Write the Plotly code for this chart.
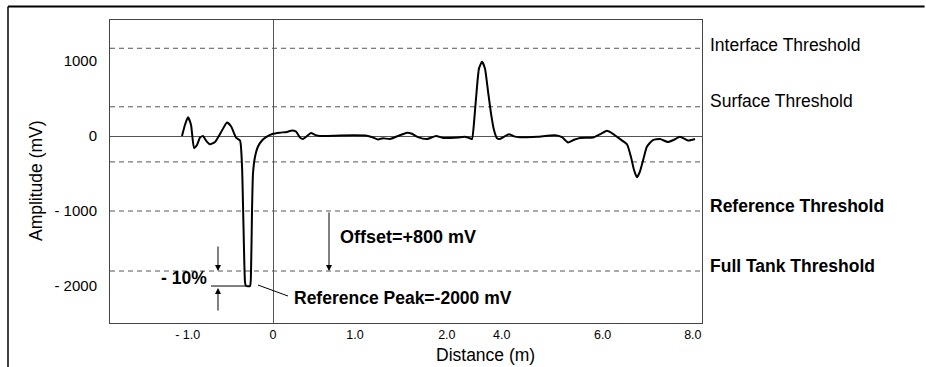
import plotly.graph_objects as go

# ---- data (x in axis units, amplitude in mV) ----
distance_pos = [
    -1.110, -1.073, -1.037, -1.000, -0.963, -0.927, -0.890, -0.854, -0.817, -0.768,
    -0.707, -0.634, -0.561, -0.512, -0.451, -0.402, -0.378, -0.360, -0.341, -0.329,
    -0.280, -0.268, -0.256, -0.244, -0.220, -0.183, -0.134, -0.085, 0.000, 0.085,
    0.171, 0.232, 0.280, 0.329, 0.366, 0.415, 0.463, 0.512, 0.573, 0.817,
    1.146, 1.220, 1.280, 1.341, 1.427, 1.524, 1.634, 1.695, 1.768, 1.878,
    1.988, 2.073, 2.159, 2.256, 2.341, 2.402, 2.427, 2.445, 2.476, 2.512,
    2.549, 2.585, 2.622, 2.659, 2.695, 2.732, 2.768, 2.817, 2.878, 2.939,
    3.012, 3.220, 3.439, 3.524, 3.598, 3.671, 3.744, 3.902, 4.000, 4.073,
    4.146, 4.232, 4.317, 4.366, 4.402, 4.439, 4.476, 4.512, 4.561, 4.634,
    4.720, 4.817, 4.890, 4.963, 5.061, 5.146,
]
amplitude_mv = [
    0, 150, 250, 150, -160, -120, -20, 0, -60, -110,
    -80, 50, 180, 130, -20, -60, -400, -1200, -1950, -2000,
    -2000, -1800, -1000, -500, -280, -140, -60, -15, 30, 45,
    55, 75, 60, -20, -40, 0, 40, 15, 0, 8,
    5, -20, -45, -30, -40, 0, 45, 30, -15, -40,
    0, -25, -25, -20, -10, -30, -40, 100, 500, 900,
    990, 900, 600, 300, 80, -30, -40, -10, 25, -5,
    -15, -10, 10, -15, -85, -50, -25, -20, 30, 70,
    30, -40, -110, -280, -450, -550, -470, -330, -140, -55,
    -40, -80, -50, -10, -60, -40,
]

threshold_values = [1170, 390, -345, -1000, -1800]
threshold_labels = ["Interface Threshold", "Surface Threshold", "", "Reference Threshold", "Full Tank Threshold"]
threshold_bold = [False, False, False, True, True]
threshold_label_shift = [3, 6, 0, 5, 5]

x_tick_vals = [-1.04, 0, 1.0, 2.12, 2.79, 4.02, 5.12]
x_tick_text = ["- 1.0", "0", "1.0", "2.0", "4.0", "6.0", "8.0"]
y_tick_vals = [1000, 0, -1000, -2000]
y_tick_text = ["1000", "0", "- 1000", "- 2000"]

reference_peak = -2000
reference_threshold = -1000
full_tank_threshold = -1800

FONT = "Liberation Sans, Arial, Helvetica, sans-serif"

fig = go.Figure()
fig.add_trace(go.Scatter(
    x=distance_pos, y=amplitude_mv, mode="lines",
    line=dict(color="black", width=2, shape="spline", smoothing=0.5),
    hoverinfo="skip", showlegend=False,
))

shapes = []
annotations = []
for val, lab, bold, sh in zip(threshold_values, threshold_labels, threshold_bold, threshold_label_shift):
    shapes.append(dict(type="line", xref="paper", x0=0, x1=1, yref="y", y0=val, y1=val,
                       line=dict(color="#555", width=1, dash="5px,4px"), layer="below"))
    if lab:
        annotations.append(dict(xref="paper", x=1, xanchor="left", xshift=6,
                                yref="y", y=val, yshift=sh, yanchor="middle",
                                text=f"<b>{lab}</b>" if bold else lab, showarrow=False,
                                font=dict(family=FONT, size=17.5, color="black")))

# outer frame (partial box)
shapes.append(dict(type="line", xref="paper", yref="paper", x0=-0.1723, x1=1.376, y0=1.0446, y1=1.0446,
                   line=dict(color="black", width=2)))
shapes.append(dict(type="line", xref="paper", yref="paper", x0=-0.1723, x1=-0.1723, y0=1.0446, y1=-0.145,
                   line=dict(color="black", width=1.5)))

# -10% marker: horizontal tie to reference peak
shapes.append(dict(type="line", xref="x", yref="y", x0=-0.756, x1=-0.341, y0=reference_peak, y1=reference_peak,
                   line=dict(color="black", width=1)))
# leader line to "Reference Peak"
shapes.append(dict(type="line", xref="x", yref="y", x0=-0.183, x1=0.183, y0=-1987, y1=-2133,
                   line=dict(color="black", width=1)))

# arrows
for (xa, y_from, y_to) in [(-0.671, -1453, full_tank_threshold),
                           (-0.671, -2347, reference_peak - 27),
                           (0.683, reference_threshold, full_tank_threshold)]:
    annotations.append(dict(x=xa, y=y_to, ax=xa, ay=y_from, xref="x", yref="y", axref="x", ayref="y",
                            text="", showarrow=True, arrowhead=2, arrowsize=1.2, arrowwidth=1,
                            arrowcolor="black", standoff=0, startstandoff=0))

annotations.append(dict(x=-1.085, y=-1893, xref="x", yref="y", text="<b>- 10%</b>", showarrow=False,
                        font=dict(family=FONT, size=17.5, color="black")))
annotations.append(dict(x=0.793, y=-1347, xref="x", yref="y", xanchor="left", text="<b>Offset=+800 mV</b>",
                        showarrow=False, font=dict(family=FONT, size=18, color="black")))
annotations.append(dict(x=0.232, y=-2160, xref="x", yref="y", xanchor="left",
                        text="<b>Reference Peak=-2000 mV</b>", showarrow=False,
                        font=dict(family=FONT, size=17.5, color="black")))

# axis titles
annotations.append(dict(xref="paper", yref="paper", x=(485 - 110) / 592, y=(323 - 355) / 303,
                        text="Distance (m)", showarrow=False, yanchor="middle",
                        font=dict(family=FONT, size=17.5, color="black")))
annotations.append(dict(xref="paper", yref="paper", x=(24 - 110) / 592, y=(323 - 181) / 303,
                        text="Amplitude (mV)", textangle=-90, showarrow=False,
                        font=dict(family=FONT, size=17.5, color="black")))

fig.update_layout(
    width=926, height=367,
    margin=dict(l=110, r=224, t=20, b=44, pad=0),
    paper_bgcolor="white", plot_bgcolor="white",
    font=dict(family=FONT, color="black"),
    shapes=shapes, annotations=annotations,
    showlegend=False,
    xaxis=dict(range=[-1.988, 5.232], showgrid=False, zeroline=True, zerolinecolor="#555",
               zerolinewidth=1, showline=True, mirror=True, linecolor="#444", linewidth=1,
               tickmode="array", tickvals=x_tick_vals, ticktext=x_tick_text,
               ticks="", tickfont=dict(family=FONT, size=12.5, color="black")),
    yaxis=dict(range=[-2493, 1547], showgrid=False, zeroline=True, zerolinecolor="#555",
               zerolinewidth=1, showline=True, mirror=True, linecolor="#444", linewidth=1,
               tickmode="array", tickvals=y_tick_vals, ticktext=y_tick_text,
               ticks="outside", ticklen=9, tickcolor="rgba(0,0,0,0)",
               tickfont=dict(family=FONT, size=15, color="black")),
)

fig.write_html("out.html", config={"displayModeBar": False},
               post_script="document.body.style.margin='0';document.body.style.overflow='hidden';")
